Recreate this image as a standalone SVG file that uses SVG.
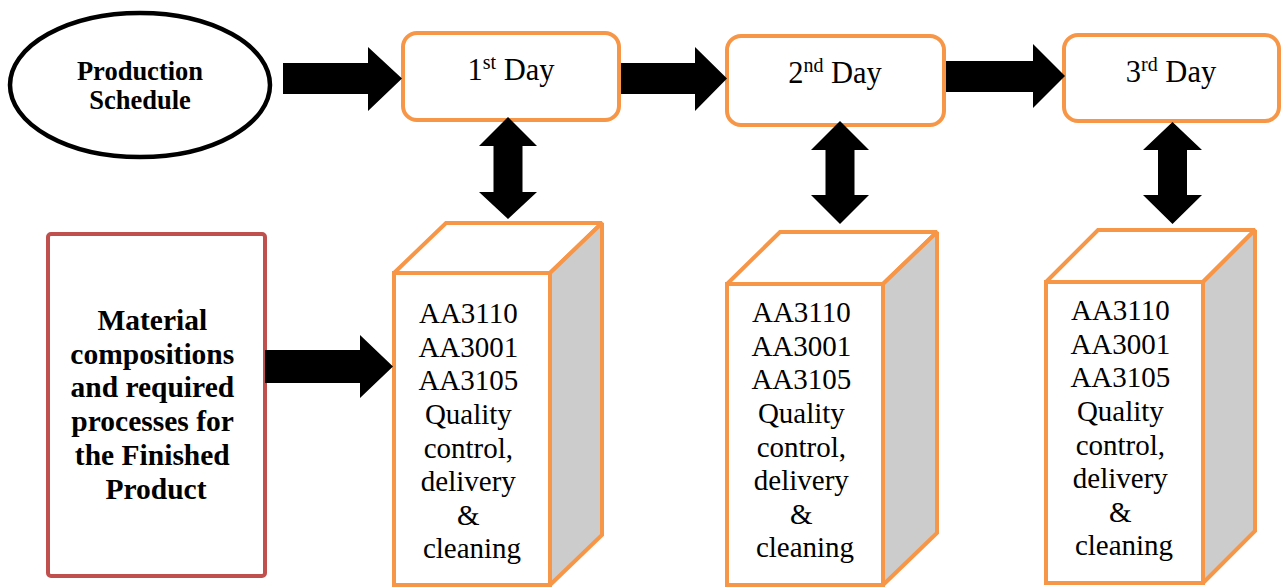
<svg xmlns="http://www.w3.org/2000/svg" width="1282" height="588" viewBox="0 0 1282 588">
<style>
text{font-family:'Liberation Serif',serif;fill:#000;text-anchor:middle}
.b{font-weight:bold}
.day{fill:#fff;stroke:#F79646;stroke-width:4}
.cube{stroke:#F79646;stroke-width:4;stroke-linejoin:miter;stroke-miterlimit:2}
.arr{fill:#000}
</style>
<rect width="1282" height="588" fill="#fff"/>
<g id="production-schedule">
<ellipse cx="140" cy="85" rx="130" ry="72" fill="#fff" stroke="#000" stroke-width="4.5"/>
<text class="b" font-family="Liberation Serif, serif" font-size="26.5" x="140" y="80">Production</text>
<text class="b" font-family="Liberation Serif, serif" font-size="26.5" x="140" y="109">Schedule</text>
</g>
<g id="day1">
<rect class="day" x="403" y="33" width="216" height="87" rx="14"/>
<text font-family="Liberation Serif, serif" font-size="30.5" x="511" y="80">1<tspan font-size="20" dy="-11">st</tspan><tspan dy="11"> Day</tspan></text>
</g>
<g id="day2">
<rect class="day" x="727" y="36" width="217" height="89" rx="14"/>
<text font-family="Liberation Serif, serif" font-size="30.5" x="835" y="83">2<tspan font-size="20" dy="-11">nd</tspan><tspan dy="11"> Day</tspan></text>
</g>
<g id="day3">
<rect class="day" x="1064" y="35" width="215" height="86" rx="14"/>
<text font-family="Liberation Serif, serif" font-size="30.5" x="1171" y="82">3<tspan font-size="20" dy="-11">rd</tspan><tspan dy="11"> Day</tspan></text>
</g>
<g id="materials">
<rect x="48" y="234" width="217" height="342" rx="3" fill="#fff" stroke="#C0504D" stroke-width="4"/>
<text class="b" font-family="Liberation Serif, serif" font-size="29.5" x="156">
<tspan x="156" y="330">Material</tspan>
<tspan x="156" y="364">compositions</tspan>
<tspan x="156" y="397">and required</tspan>
<tspan x="156" y="431">processes for</tspan>
<tspan x="156" y="465">the Finished</tspan>
<tspan x="156" y="499">Product</tspan>
</text>
</g>
<g id="cube1">
<path class="cube" d="M394,273 L446,223 L602,223 L550,273 Z" fill="#fff"/>
<path class="cube" d="M550,273 L602,223 L602,535 L550,585 Z" fill="#CCCCCC"/>
<rect class="cube" x="394" y="273" width="156" height="312" fill="#fff"/>
<text font-family="Liberation Serif, serif" font-size="29">
<tspan x="472" y="323">AA3110</tspan>
<tspan x="472" y="357">AA3001</tspan>
<tspan x="472" y="390">AA3105</tspan>
<tspan x="472" y="424">Quality</tspan>
<tspan x="472" y="458">control,</tspan>
<tspan x="472" y="491">delivery</tspan>
<tspan x="472" y="525">&amp;</tspan>
<tspan x="472" y="558">cleaning</tspan>
</text>
</g>
<g id="cube2">
<path class="cube" d="M727,284 L780,232 L937,232 L883,284 Z" fill="#fff"/>
<path class="cube" d="M883,284 L937,232 L937,533 L883,585 Z" fill="#CCCCCC"/>
<rect class="cube" x="727" y="284" width="156" height="301" fill="#fff"/>
<text font-family="Liberation Serif, serif" font-size="29">
<tspan x="805" y="322">AA3110</tspan>
<tspan x="805" y="356">AA3001</tspan>
<tspan x="805" y="389">AA3105</tspan>
<tspan x="805" y="423">Quality</tspan>
<tspan x="805" y="457">control,</tspan>
<tspan x="805" y="490">delivery</tspan>
<tspan x="805" y="524">&amp;</tspan>
<tspan x="805" y="557">cleaning</tspan>
</text>
</g>
<g id="cube3">
<path class="cube" d="M1046,282 L1098,230 L1255,230 L1203,282 Z" fill="#fff"/>
<path class="cube" d="M1203,282 L1255,230 L1255,531 L1203,583 Z" fill="#CCCCCC"/>
<rect class="cube" x="1046" y="282" width="157" height="301" fill="#fff"/>
<text font-family="Liberation Serif, serif" font-size="29">
<tspan x="1124" y="320">AA3110</tspan>
<tspan x="1124" y="354">AA3001</tspan>
<tspan x="1124" y="387">AA3105</tspan>
<tspan x="1124" y="421">Quality</tspan>
<tspan x="1124" y="455">control,</tspan>
<tspan x="1124" y="488">delivery</tspan>
<tspan x="1124" y="522">&amp;</tspan>
<tspan x="1124" y="555">cleaning</tspan>
</text>
</g>
<g id="connectors">
<polygon class="arr" points="283,63 368,63 368,47 402,78.5 368,111 368,94 283,94"/>
<polygon class="arr" points="621,63 695,63 695,47 727,78.5 695,111 695,94 621,94"/>
<polygon class="arr" points="946,61 1033,61 1033,44 1065,76 1033,108 1033,92 946,92"/>
<polygon class="arr" points="265,350 360,350 360,335 393,366.5 360,398 360,383 265,383"/>
<polygon class="arr" points="508,117 537,146 522.5,146 522.5,192 537,192 508,219 479,192 493.5,192 493.5,146 479,146"/>
<polygon class="arr" points="840,121 869,150 854.5,150 854.5,195 869,195 840,224 811,195 825.5,195 825.5,150 811,150"/>
<polygon class="arr" points="1172.5,122 1202,150 1187,150 1187,195 1202,195 1172.5,224 1143,195 1158,195 1158,150 1143,150"/>
</g>
</svg>
